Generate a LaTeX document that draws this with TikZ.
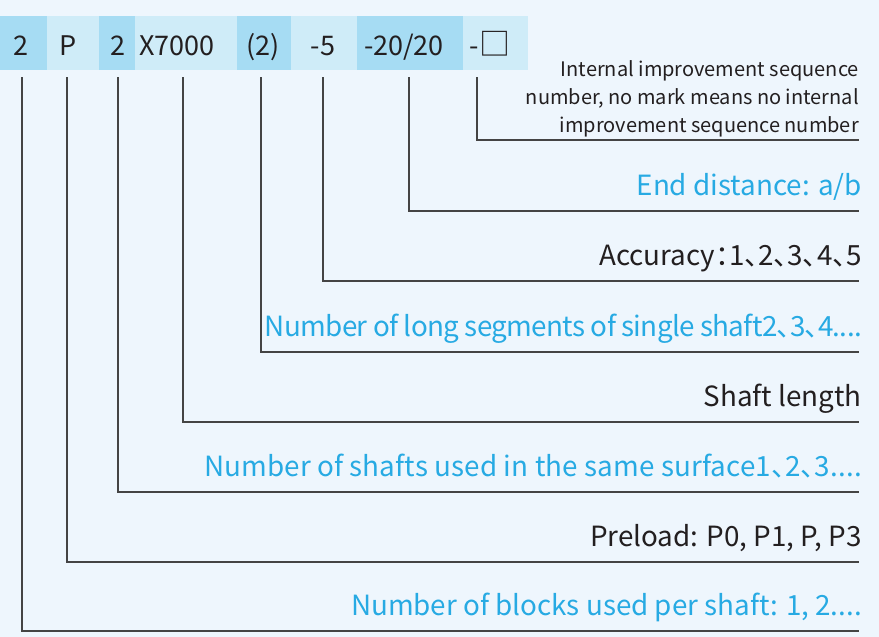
\documentclass[tikz,border=0pt]{standalone}
\usepackage{fontspec}
\setmainfont{Noto Sans CJK SC}[RawFeature=+palt]
\definecolor{bgc}{HTML}{EEF6FD}
\definecolor{boxdark}{HTML}{A6DCF3}
\definecolor{boxlight}{HTML}{CFECF8}
\definecolor{bluetxt}{HTML}{27AAE3}
\definecolor{darktxt}{HTML}{231F20}
\definecolor{linec}{HTML}{444444}
\begin{document}
\begin{tikzpicture}[x=1pt,y=-1pt,
  hdr/.style={inner sep=0pt,font=\fontsize{27}{30}\selectfont,text=darktxt,anchor=base},
  lab/.style={inner sep=0pt,anchor=base east,font=\fontsize{27.8}{30}\selectfont},
  labd/.style={lab,text=darktxt},
  labb/.style={lab,text=bluetxt},
  small/.style={inner sep=0pt,anchor=base east,align=right,text=darktxt,font=\fontsize{20}{28}\selectfont},
  conn/.style={draw=linec,line width=1.1pt}]
\fill[bgc] (0,0) rectangle (879,637);
\useasboundingbox (0,0) rectangle (879,637);
% header boxes
\fill[boxdark]  (0,16) rectangle (47,70);
\fill[boxlight] (47,16) rectangle (99,70);
\fill[boxdark]  (99,16) rectangle (135,70);
\fill[boxlight] (135,16) rectangle (237,70);
\fill[boxdark]  (237,16) rectangle (291,70);
\fill[boxlight] (291,16) rectangle (357,70);
\fill[boxdark]  (357,16) rectangle (463,70);
\fill[boxlight] (463,16) rectangle (528,70);
% header texts
\node[hdr] (h1) at (21,56) {2};
\node[hdr] (h2) at (68,56) {P};
\node[hdr] (h3) at (118,56) {2};
\node[hdr] (h4) at (177,56) {X7000};
\node[hdr] (h5) at (263,56) {(2)};
\node[hdr] (h6) at (323,56) {-5};
\node[hdr] (h7) at (404,56) {-20/20};
\node[hdr] (h8) at (490,56) {-{\fontsize{31}{31}\selectfont □}};
% line tops
\coordinate (t1) at (22,77);
\coordinate (t2) at (67,77);
\coordinate (t3) at (118,77);
\coordinate (t4) at (183,77);
\coordinate (t5) at (261,77);
\coordinate (t6) at (323,77);
\coordinate (t7) at (409,77);
\coordinate (t8) at (477,77);
% line ends
\coordinate (e8) at (859,140);
\coordinate (e7) at (859,211);
\coordinate (e6) at (859,281);
\coordinate (e5) at (859,352);
\coordinate (e4) at (859,422);
\coordinate (e3) at (859,492);
\coordinate (e2) at (859,562);
\coordinate (e1) at (859,631);
% labels
\node[small] (l8) at (859,132) {Internal improvement sequence\\number, no mark means no internal\\improvement sequence number};
\node[labb] (l7) at (862,195) {End distance: a/b};
\node[labd] (l6) at (862,265) {Accuracy：1、2、3、4、5};
\node[labb] (l5) at (862,336) {\addfontfeatures{LetterSpace=-2.4}Number of long segments of single shaft2、3、4....};
\node[labd] (l4) at (862,406) {Shaft length};
\node[labb] (l3) at (862,476) {\addfontfeatures{LetterSpace=0.5}Number of shafts used in the same surface1、2、3....};
\node[labd] (l2) at (862,546) {Preload: P0, P1, P, P3};
\node[labb] (l1) at (862,615) {Number of blocks used per shaft: 1, 2....};
% connectors
\foreach \i in {1,...,8} \draw[conn] (t\i) |- (e\i);
\end{tikzpicture}
\end{document}
